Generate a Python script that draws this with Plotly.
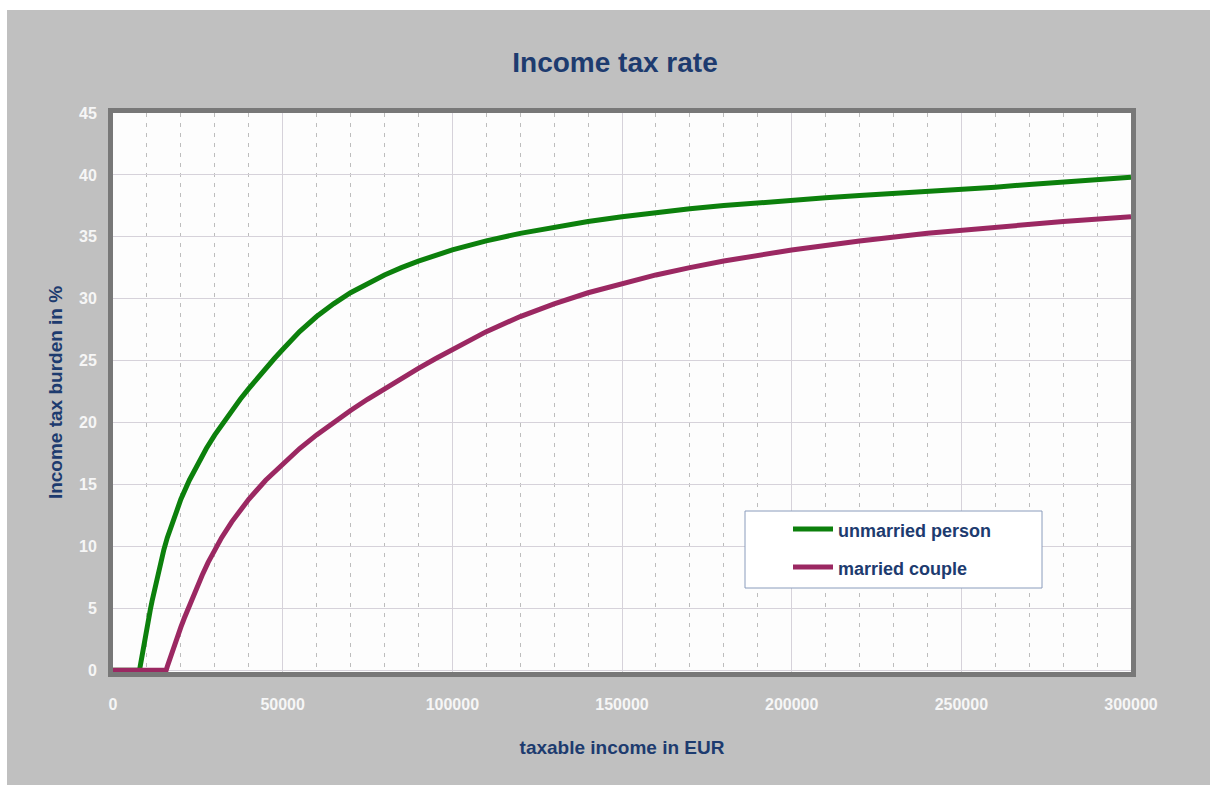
import plotly.graph_objects as go

# Taxable income (EUR) and average income tax burden (%) for a single person
income_single = [0, 7834, 8000, 8500, 9000, 9500, 10000, 10500, 11000, 11500,
                 12000, 12500, 13139, 14000, 15000, 16000, 17500, 20000, 22500, 25000,
                 27500, 30000, 32500, 35000, 37500, 40000, 42500, 45000, 47500, 50000,
                 52551, 55000, 60000, 65000, 70000, 75000, 80000, 85000, 90000, 100000,
                 110000, 120000, 130000, 140000, 150000, 160000, 170000, 180000, 190000, 200000,
                 210000, 220000, 230000, 240000, 250401, 260000, 270000, 280000, 290000, 300000]
rate_single = [0, 0, 0.29, 1.15, 1.96, 2.73, 3.47, 4.19, 4.89, 5.56,
               6.22, 6.86, 7.67, 8.68, 9.74, 10.70, 11.98, 13.80, 15.34, 16.69,
               17.90, 19.00, 20.02, 20.97, 21.88, 22.74, 23.57, 24.37, 25.15, 25.90,
               26.65, 27.34, 28.56, 29.59, 30.48, 31.25, 31.92, 32.51, 33.04, 33.94,
               34.67, 35.28, 35.80, 36.24, 36.62, 36.96, 37.26, 37.52, 37.76, 37.97,
               38.16, 38.33, 38.49, 38.64, 38.78, 39.01, 39.23, 39.44, 39.63, 39.81]

# Same for a married couple (joint assessment)
income_married = [0, 15668, 16000, 17000, 18000, 19000, 20000, 21000, 22000, 23000,
                  24000, 25000, 26278, 28000, 30000, 32000, 35000, 40000, 45000, 50000,
                  55000, 60000, 65000, 70000, 75000, 80000, 85000, 90000, 95000, 100000,
                  105102, 110000, 120000, 130000, 140000, 150000, 160000, 170000, 180000, 200000,
                  220000, 240000, 260000, 280000, 300000]
rate_married = [0, 0, 0.29, 1.15, 1.96, 2.73, 3.47, 4.19, 4.89, 5.56,
                6.22, 6.86, 7.67, 8.68, 9.74, 10.70, 11.98, 13.80, 15.34, 16.69,
                17.90, 19.00, 20.02, 20.97, 21.88, 22.74, 23.57, 24.37, 25.15, 25.90,
                26.65, 27.34, 28.56, 29.59, 30.48, 31.25, 31.92, 32.51, 33.04, 33.94,
                34.67, 35.28, 35.80, 36.24, 36.62]

series_names = ["unmarried person", "married couple"]
series_colors = ["#0c800c", "#9b2862"]

x_ticks = [0, 50000, 100000, 150000, 200000, 250000, 300000]
y_ticks = [0, 5, 10, 15, 20, 25, 30, 35, 40, 45]

NAVY = "#1d3b6f"
FONT = "Liberation Sans, Arial, sans-serif"

fig = go.Figure()
fig.add_trace(go.Scatter(x=income_single, y=rate_single, mode="lines",
                         name=series_names[0],
                         line=dict(color=series_colors[0], width=5)))
fig.add_trace(go.Scatter(x=income_married, y=rate_married, mode="lines",
                         name=series_names[1],
                         line=dict(color=series_colors[1], width=5)))

W, H = 1210, 785
L, R, T, B = 113, 79, 113, 113
pw, ph = W - L - R, H - T - B


def px_x(px):
    return (px - L) / pw


def px_y(py):
    return (H - B - py) / ph


shapes = [
    # white strips around the grey panel
    dict(type="rect", xref="paper", yref="paper", x0=px_x(0), x1=px_x(W),
         y0=px_y(10), y1=px_y(0), fillcolor="white", line_width=0, layer="below"),
    dict(type="rect", xref="paper", yref="paper", x0=px_x(0), x1=px_x(7),
         y0=px_y(H), y1=px_y(0), fillcolor="white", line_width=0, layer="below"),
    # legend box
    dict(type="rect", xref="paper", yref="paper", x0=px_x(745), x1=px_x(1042),
         y0=px_y(588), y1=px_y(511), fillcolor="white",
         line=dict(color="#8a9cbc", width=1), layer="above"),
]
annotations = []
for i, (name, color) in enumerate(zip(series_names, series_colors)):
    ly = [529, 567][i]
    shapes.append(dict(type="line", xref="paper", yref="paper",
                       x0=px_x(793), x1=px_x(833), y0=px_y(ly), y1=px_y(ly),
                       line=dict(color=color, width=5), layer="above"))
    annotations.append(dict(xref="paper", yref="paper", x=px_x(836), y=px_y(ly + 2),
                            xanchor="left", yanchor="middle", showarrow=False,
                            text=name,
                            font=dict(family=FONT, size=18, color=NAVY, weight="bold")))

fig.update_layout(
    width=W, height=H,
    margin=dict(l=L, r=R, t=T, b=B),
    paper_bgcolor="#c0c0c0",
    plot_bgcolor="#fdfdfd",
    showlegend=False,
    title=dict(text="Income tax rate", x=615 / W, xref="container", xanchor="center",
               y=1 - 62 / H, yref="container", yanchor="middle",
               font=dict(family=FONT, size=28, color=NAVY, weight="bold")),
    shapes=shapes,
    annotations=annotations,
)

fig.update_xaxes(
    range=[0, 300000], tickvals=x_ticks, ticktext=[str(v) for v in x_ticks],
    showgrid=True, gridcolor="#d6d2da", gridwidth=1,
    minor=dict(dtick=10000, tick0=0, showgrid=True, gridcolor="#bdbdbd",
               griddash="4px,6px", gridwidth=1),
    showline=True, mirror=True, linecolor="#787878", linewidth=5,
    ticks="", ticklabelstandoff=14, zeroline=False,
    tickfont=dict(family=FONT, size=16, color="#f6f6f6", weight="bold"),
    title=dict(text="taxable income in EUR", standoff=30,
               font=dict(family=FONT, size=19, color=NAVY, weight="bold")),
)
fig.update_yaxes(
    range=[-0.15, 45], tickvals=y_ticks,
    showgrid=True, gridcolor="#d6d2da", gridwidth=1,
    showline=True, mirror=True, linecolor="#787878", linewidth=5,
    ticks="", ticklabelstandoff=8, zeroline=False,
    tickfont=dict(family=FONT, size=16, color="#f6f6f6", weight="bold"),
    title=dict(text="Income tax burden in %", standoff=13,
               font=dict(family=FONT, size=19, color=NAVY, weight="bold")),
)

fig.write_html("out.html")
